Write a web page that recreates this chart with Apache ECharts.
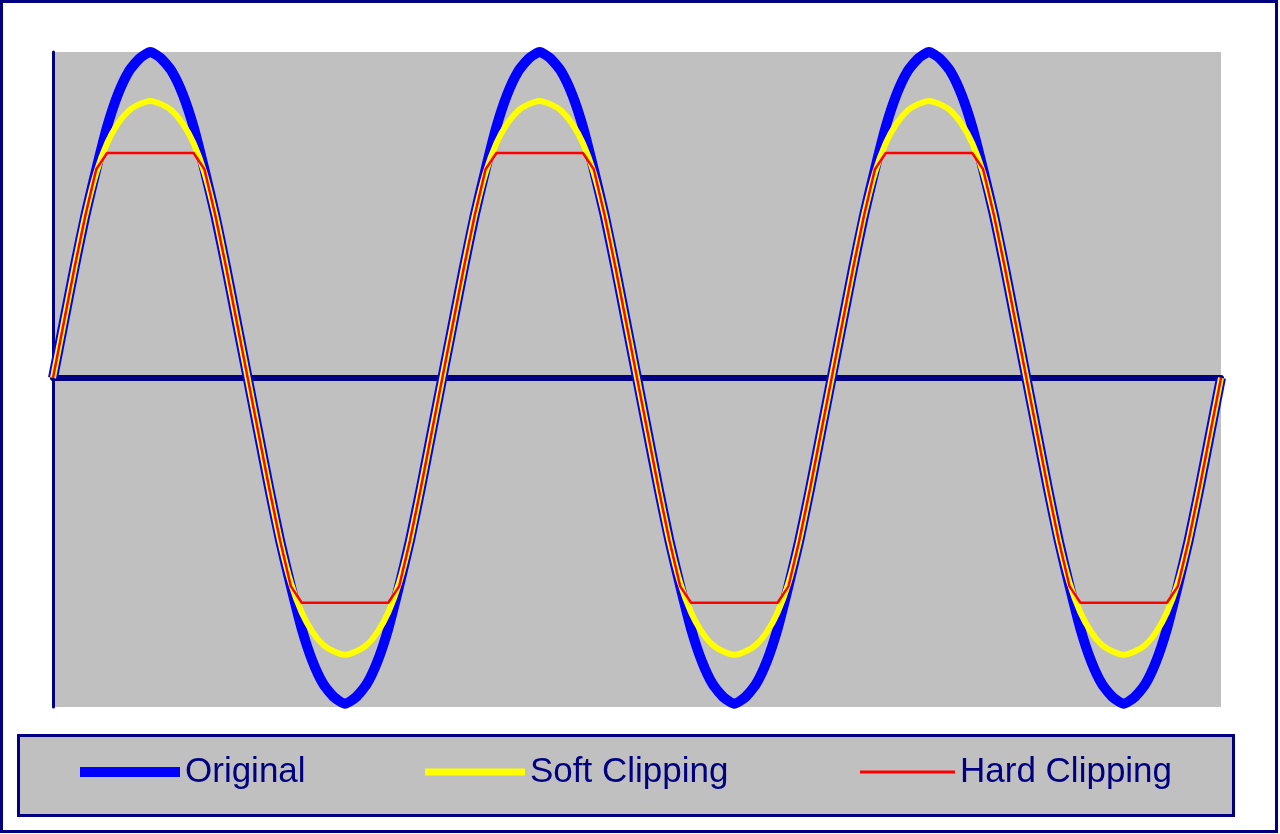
<!DOCTYPE html>
<html>
<head>
<meta charset="utf-8">
<script src="https://cdn.jsdelivr.net/npm/echarts@6/dist/echarts.min.js"></script>
<style>
html,body{margin:0;padding:0;background:#fff;}
#chart{width:1280px;height:834px;}
</style>
</head>
<body>
<div id="chart"></div>
<script>
// Phase (degrees) of each sample, 3 full periods
const phases = [
  0,10,20,30,40,50,60,70,80,90,100,110,120,130,140,150,160,170,
  180,190,200,210,220,230,240,250,260,270,280,290,300,310,320,330,340,350,
  360,370,380,390,400,410,420,430,440,450,460,470,480,490,500,510,520,530,
  540,550,560,570,580,590,600,610,620,630,640,650,660,670,680,690,700,710,
  720,730,740,750,760,770,780,790,800,810,820,830,840,850,860,870,880,890,
  900,910,920,930,940,950,960,970,980,990,1000,1010,1020,1030,1040,1050,1060,1070,
  1080
];
const seriesNames = ['Original', 'Soft Clipping', 'Hard Clipping'];
const original = [
  0,0.17,0.34,0.5,0.64,0.77,0.87,0.94,0.98,1,0.98,0.94,0.87,0.77,0.64,0.5,0.34,0.17,
  0,-0.17,-0.34,-0.5,-0.64,-0.77,-0.87,-0.94,-0.98,-1,-0.98,-0.94,-0.87,-0.77,-0.64,-0.5,-0.34,-0.17,
  0,0.17,0.34,0.5,0.64,0.77,0.87,0.94,0.98,1,0.98,0.94,0.87,0.77,0.64,0.5,0.34,0.17,
  0,-0.17,-0.34,-0.5,-0.64,-0.77,-0.87,-0.94,-0.98,-1,-0.98,-0.94,-0.87,-0.77,-0.64,-0.5,-0.34,-0.17,
  0,0.17,0.34,0.5,0.64,0.77,0.87,0.94,0.98,1,0.98,0.94,0.87,0.77,0.64,0.5,0.34,0.17,
  0,-0.17,-0.34,-0.5,-0.64,-0.77,-0.87,-0.94,-0.98,-1,-0.98,-0.94,-0.87,-0.77,-0.64,-0.5,-0.34,-0.17,
  0
];
const soft = [
  0,0.17,0.34,0.5,0.63,0.72,0.78,0.82,0.84,0.85,0.84,0.82,0.78,0.72,0.63,0.5,0.34,0.17,
  0,-0.17,-0.34,-0.5,-0.63,-0.72,-0.78,-0.82,-0.84,-0.85,-0.84,-0.82,-0.78,-0.72,-0.63,-0.5,-0.34,-0.17,
  0,0.17,0.34,0.5,0.63,0.72,0.78,0.82,0.84,0.85,0.84,0.82,0.78,0.72,0.63,0.5,0.34,0.17,
  0,-0.17,-0.34,-0.5,-0.63,-0.72,-0.78,-0.82,-0.84,-0.85,-0.84,-0.82,-0.78,-0.72,-0.63,-0.5,-0.34,-0.17,
  0,0.17,0.34,0.5,0.63,0.72,0.78,0.82,0.84,0.85,0.84,0.82,0.78,0.72,0.63,0.5,0.34,0.17,
  0,-0.17,-0.34,-0.5,-0.63,-0.72,-0.78,-0.82,-0.84,-0.85,-0.84,-0.82,-0.78,-0.72,-0.63,-0.5,-0.34,-0.17,
  0
];
const hard = [
  0,0.17,0.34,0.5,0.64,0.69,0.69,0.69,0.69,0.69,0.69,0.69,0.69,0.69,0.64,0.5,0.34,0.17,
  0,-0.17,-0.34,-0.5,-0.64,-0.69,-0.69,-0.69,-0.69,-0.69,-0.69,-0.69,-0.69,-0.69,-0.64,-0.5,-0.34,-0.17,
  0,0.17,0.34,0.5,0.64,0.69,0.69,0.69,0.69,0.69,0.69,0.69,0.69,0.69,0.64,0.5,0.34,0.17,
  0,-0.17,-0.34,-0.5,-0.64,-0.69,-0.69,-0.69,-0.69,-0.69,-0.69,-0.69,-0.69,-0.69,-0.64,-0.5,-0.34,-0.17,
  0,0.17,0.34,0.5,0.64,0.69,0.69,0.69,0.69,0.69,0.69,0.69,0.69,0.69,0.64,0.5,0.34,0.17,
  0,-0.17,-0.34,-0.5,-0.64,-0.69,-0.69,-0.69,-0.69,-0.69,-0.69,-0.69,-0.69,-0.69,-0.64,-0.5,-0.34,-0.17,
  0
];

const NAVY = '#000080';
const FONT = '"Liberation Sans", Arial, sans-serif';
const chart = echarts.init(document.getElementById('chart'), null, {renderer: 'canvas'});

function legendFor(name, left, w, h) {
  return {
    data: [name], left: left, top: 752, padding: 0,
    icon: 'rect', itemWidth: w, itemHeight: h, selectedMode: false,
    textStyle: {color: NAVY, fontSize: 35, fontFamily: FONT, lineHeight: 40}
  };
}

chart.setOption({
  animation: false,
  backgroundColor: '#ffffff',
  graphic: [
    {type: 'rect', z: -10, shape: {x: 1.5, y: 1.5, width: 1275, height: 830},
     style: {fill: 'none', stroke: NAVY, lineWidth: 3}},
    {type: 'rect', z: -10, shape: {x: 18.5, y: 735.5, width: 1215, height: 80},
     style: {fill: '#c0c0c0', stroke: NAVY, lineWidth: 3}}
  ],
  legend: [
    legendFor(seriesNames[0], 80, 100, 10),
    legendFor(seriesNames[1], 425, 100, 7),
    legendFor(seriesNames[2], 860, 95, 3)
  ],
  grid: {left: 53, top: 52, width: 1168, height: 655, show: true,
         backgroundColor: '#c0c0c0', borderWidth: 0},
  xAxis: {
    type: 'category', data: phases, boundaryGap: false,
    axisLine: {show: true, onZero: true, lineStyle: {color: NAVY, width: 6}},
    axisTick: {show: false}, axisLabel: {show: false}, splitLine: {show: false}
  },
  yAxis: {
    type: 'value', min: -1.01, max: 1.0,
    axisLine: {show: true, lineStyle: {color: NAVY, width: 3}},
    axisTick: {show: false}, axisLabel: {show: false}, splitLine: {show: false}
  },
  series: [
    {name: seriesNames[0], type: 'line', data: original, smooth: 0.2, symbol: 'none', clip: false,
     color: '#0000ff', lineStyle: {color: '#0000ff', width: 10, join: 'round'}},
    {name: seriesNames[1], type: 'line', data: soft, smooth: 0.2, symbol: 'none', clip: false,
     color: '#ffff00', lineStyle: {color: '#ffff00', width: 6, join: 'round'}},
    {name: seriesNames[2], type: 'line', data: hard, smooth: false, symbol: 'none', clip: false,
     color: '#ff0000', lineStyle: {color: '#ff0000', width: 2.5}}
  ]
});
</script>
</body>
</html>
